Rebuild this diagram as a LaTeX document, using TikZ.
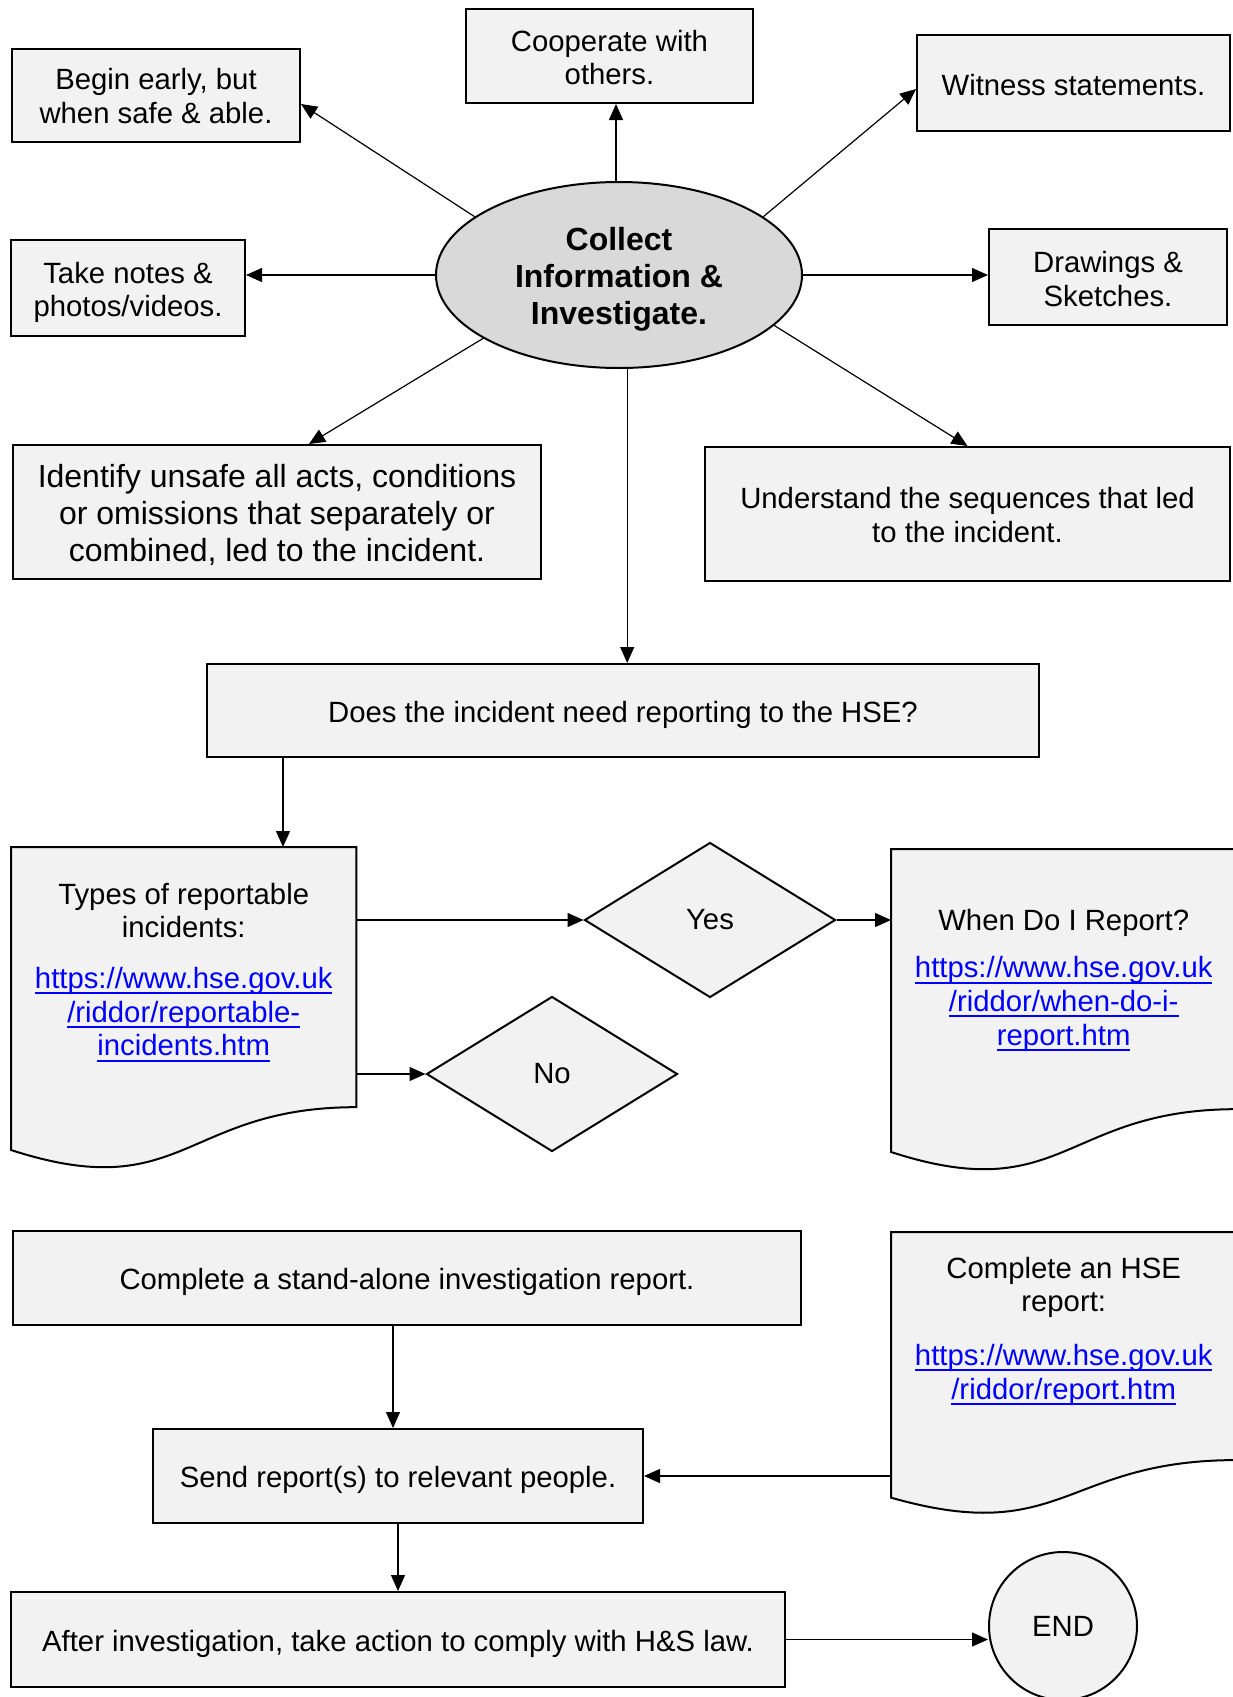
\documentclass[tikz,border=0pt]{standalone}
\usepackage{fontspec}
\setmainfont{Liberation Sans}
\usetikzlibrary{shapes.geometric,arrows.meta,calc,backgrounds}
\definecolor{boxgray}{HTML}{F2F2F2}
\definecolor{ovalgray}{HTML}{D9D9D9}
\definecolor{linkblue}{HTML}{0000FF}
% centred lines whose reference point is the first baseline
\newcommand\stackedlines[1]{\begin{tabular}[t]{@{}c@{}}#1\end{tabular}}
% underlined hyperlink-style text
\newcommand\weblink[1]{\textcolor{linkblue}{\setbox0=\hbox{#1}\rlap{\rule[-6pt]{\wd0}{2pt}}\box0}}
% document (wavy bottom) outline behind a named node
\newcommand\docoutline[1]{%
  \begin{scope}[on background layer]
    \path[docline] (#1.north west) -- (#1.north east)
      -- ($(#1.north east)!0.802!(#1.south east)$)
      .. controls ($(#1.north)!0.802!(#1.south)$) and ($(#1.north)!1.107!(#1.south)$) ..
      ($(#1.north west)!0.934!(#1.south west)$) -- cycle;
  \end{scope}}
\begin{document}
\begin{tikzpicture}[x=1pt,y=-1pt,
  base/.style={font=\fontsize{29.3}{33.6}\selectfont, inner sep=0pt},
  box/.style={base, rectangle, draw=black, fill=boxgray, line width=2pt, text height=29.5pt},
  bigbox/.style={box, font=\fontsize{32}{36.8}\selectfont},
  oval/.style={base, ellipse, draw=black, fill=ovalgray, line width=2pt,
    font=\fontsize{32}{36.8}\selectfont\bfseries},
  decision/.style={base, diamond, draw=black, fill=boxgray, line width=2pt},
  terminal/.style={base, circle, draw=black, fill=boxgray, line width=2pt},
  docnode/.style={base, rectangle, anchor=north west, minimum width=345pt},
  docline/.style={draw=black, fill=boxgray, line width=2pt},
  arr/.style={line width=1.2pt, -{Triangle[length=16pt,width=14pt]}}]

\useasboundingbox (0,0) rectangle (1232,1697);
\begin{scope}[on background layer]
  \fill[white] (0,0) rectangle (1232,1697);
\end{scope}

% central activity
\node[oval, minimum width=366pt, minimum height=186pt, text height=31.5pt, text depth=80.3pt] (ell) at (619,275)
  {\stackedlines{Collect\\Information \&\\Investigate.}};

% surrounding tasks
\node[box, minimum width=288pt, minimum height=93pt, text height=22.2pt, text depth=34pt] (begin) at (156,95.5)
  {\stackedlines{Begin early, but\\when safe \& able.}};
\node[box, minimum width=287pt, minimum height=94pt, text height=24.4pt, text depth=33.9pt] (coop) at (609.5,56)
  {\stackedlines{Cooperate with\\others.}};
\node[box, minimum width=313pt, minimum height=96pt, text height=24.6pt] (wit) at (1073.5,83)
  {Witness statements.};
\node[box, minimum width=234pt, minimum height=96pt, text height=29.8pt, text depth=39.8pt] (notes) at (128,288)
  {\stackedlines{Take notes \&\\photos/videos.}};
\node[box, minimum width=238pt, minimum height=96pt, text height=25.6pt, text depth=33.9pt] (drw) at (1108,277)
  {\stackedlines{Drawings \&\\Sketches.}};
\node[bigbox, minimum width=528pt, minimum height=134pt, text height=29.3pt, text depth=78.3pt] (ident) at (277,512)
  {\stackedlines{Identify unsafe all acts, conditions\\or omissions that separately or\\combined, led to the incident.}};
\node[box, minimum width=525pt, minimum height=134pt, text height=23.4pt, text depth=33.9pt] (und) at (967.5,514)
  {\stackedlines{Understand the sequences that led\\to the incident.}};

% reporting decision
\node[box, minimum width=832pt, minimum height=93pt] (does) at (623,710.5)
  {Does the incident need reporting to the HSE?};

\node[docnode, text height=57pt, text depth=267pt] (types) at (11,847)
  {\stackedlines{Types of reportable\\incidents:\\[17pt]\weblink{https://www.hse.gov.uk}\\\weblink{/riddor/reportable-}\\\weblink{incidents.htm}}};
\docoutline{types}

\node[decision, minimum width=251pt, minimum height=155pt] (yes) at (710,920) {Yes};
\node[decision, minimum width=251pt, minimum height=155pt] (no) at (552,1074) {No};

\node[docnode, text height=81pt, text depth=243pt] (when) at (891,849)
  {\stackedlines{When Do I Report?\\[14pt]\weblink{https://www.hse.gov.uk}\\\weblink{/riddor/when-do-i-}\\\weblink{report.htm}}};
\docoutline{when}

% reports and follow-up
\node[box, minimum width=788pt, minimum height=94pt] (stand) at (407,1278)
  {Complete a stand-alone investigation report.};
\node[docnode, text height=46pt, text depth=238pt] (hse) at (891,1232)
  {\stackedlines{Complete an HSE\\report:\\[20pt]\weblink{https://www.hse.gov.uk}\\\weblink{/riddor/report.htm}}};
\docoutline{hse}
\node[box, minimum width=490pt, minimum height=94pt] (send) at (398,1476)
  {Send report(s) to relevant people.};
\node[box, minimum width=774pt, minimum height=95pt] (after) at (398,1639.5)
  {After investigation, take action to comply with H\&S law.};
\node[terminal, minimum size=148pt] (endc) at (1063,1626) {END};

% connectors from the central activity
\draw[arr] (ell.158) -- ([yshift=-8.5pt]begin.east);
\draw[arr] ([xshift=-3pt]ell.north) -- ([xshift=-3pt]ell.north |- coop.south);
\draw[arr] (ell.22) -- ([yshift=-6pt]wit.west);
\draw[arr] (ell.west) -- (ell.west -| notes.east);
\draw[arr] (ell.east) -- (ell.east -| drw.west);
\draw[arr] (ell.205) -- ([xshift=32pt]ident.north);
\draw[arr] (ell.-18) -- (und.north);
\draw[arr] (ell.-85) -- (ell.-85 |- does.north);

% reporting flow
\coordinate (dtx) at (283,0);
\draw[arr] (dtx |- does.south) -- (dtx |- types.north);
\draw[arr] (yes.west -| types.east) -- (yes.west);
\draw[arr] (no.west -| types.east) -- (no.west);
\draw[arr] (yes.east) -- (yes.east -| when.west);
\coordinate (ssx) at (393,0);
\draw[arr] (ssx |- stand.south) -- (ssx |- send.north);
\draw[arr] (send.east -| hse.west) -- (send.east);
\draw[arr] (send.south) -- (send.south |- after.north);
\draw[arr] (after.east) -- (after.east -| endc.west);
\end{tikzpicture}
\end{document}
